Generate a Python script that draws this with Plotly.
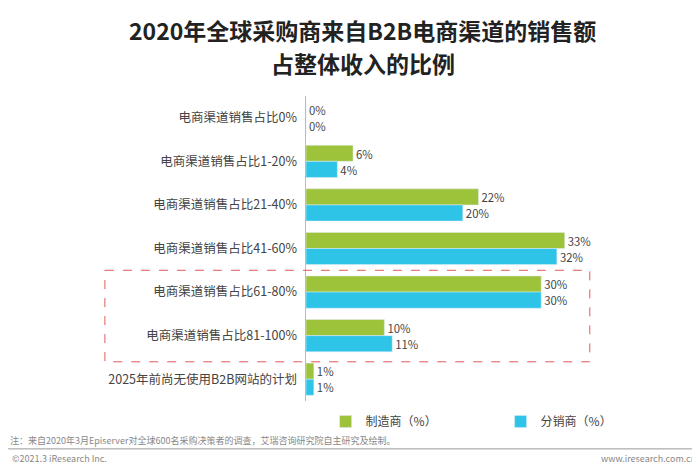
import plotly.graph_objects as go

categories = ["电商渠道销售占比0%", "电商渠道销售占比1-20%", "电商渠道销售占比21-40%",
              "电商渠道销售占比41-60%", "电商渠道销售占比61-80%", "电商渠道销售占比81-100%",
              "2025年前尚无使用B2B网站的计划"]
manufacturers = [0, 6, 22, 33, 30, 10, 1]
distributors = [0, 4, 20, 32, 30, 11, 1]

font = "Noto Sans CJK SC"
fig = go.Figure()
fig.add_bar(y=categories, x=manufacturers, orientation="h", name="制造商（%）",
            marker_color="#9dc33b", text=[f"{v}%" for v in manufacturers],
            textposition="outside", cliponaxis=False, textfont=dict(size=12, color="#444"))
fig.add_bar(y=categories, x=distributors, orientation="h", name="分销商（%）",
            marker_color="#2ec4e8", text=[f"{v}%" for v in distributors],
            textposition="outside", cliponaxis=False, textfont=dict(size=12, color="#444"))

fig.update_layout(
    width=700, height=470, barmode="group", bargap=0.26, bargroupgap=0,
    margin=dict(l=298, r=10, t=88, b=77),
    paper_bgcolor="white", plot_bgcolor="white",
    font=dict(family=font, color="#444", size=12),
    xaxis=dict(range=[0, 50], visible=False),
    yaxis=dict(autorange="reversed", showline=True, linecolor="#bbb", ticks="",
               ticksuffix="  ", tickfont=dict(size=12.5, color="#444")),
    legend=dict(orientation="h", x=0.05, y=-0.02, xanchor="left", yanchor="top",
                entrywidth=130, itemwidth=30, font=dict(size=12, color="#444")),
    showlegend=True,
)
for txt, yy in [("2020年全球采购商来自B2B电商渠道的销售额", 1.216), ("占整体收入的比例", 1.108)]:
    fig.add_annotation(text=f"<b>{txt}</b>", xref="paper", yref="paper", x=0.145, y=yy,
                       xanchor="center", yanchor="middle", showarrow=False,
                       font=dict(size=23, color="#222", family=font))
fig.add_shape(type="rect", xref="paper", yref="y", x0=-0.513, x1=0.724, y0=3.5, y1=5.6,
              line=dict(color="#e05a5a", width=1, dash="dash"))
fig.add_shape(type="line", xref="paper", yref="paper", x0=-0.76, x1=1.03, y0=-0.157, y1=-0.157,
              line=dict(color="#999", width=1))
fig.add_annotation(text="注：来自2020年3月Episerver对全球600名采购决策者的调查，艾瑞咨询研究院自主研究及绘制。",
                   xref="paper", yref="paper", x=-0.76, y=-0.157, xanchor="left", yanchor="bottom",
                   showarrow=False, font=dict(size=9, color="#888"))
fig.add_annotation(text="©2021.3 iResearch Inc.", xref="paper", yref="paper", x=-0.755, y=-0.162,
                   xanchor="left", yanchor="top", showarrow=False, font=dict(size=9, color="#888"))
fig.add_annotation(text="www.iresearch.com.cn", xref="paper", yref="paper", x=1.0, y=-0.162,
                   xanchor="right", yanchor="top", showarrow=False, font=dict(size=9, color="#888"))
fig.write_html("out.html")
